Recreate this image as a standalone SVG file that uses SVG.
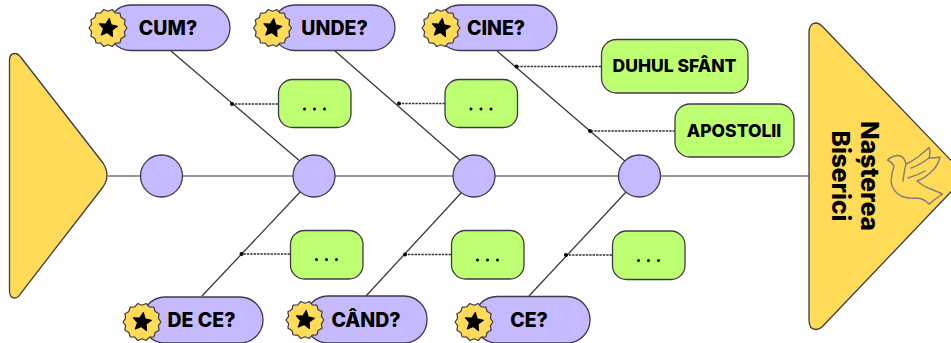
<svg xmlns="http://www.w3.org/2000/svg" xmlns:xlink="http://www.w3.org/1999/xlink" width="951" height="343" viewBox="0 0 951 343">
<style>
.o{stroke:#3f3a4a;stroke-width:1.3}
.p{fill:#c5b9ff}
.g{fill:#bdff70}
.y{fill:#ffdb58}
.l{font-family:"Inter","Liberation Sans",sans-serif;font-weight:800;fill:#000;text-anchor:middle}
.t{font-size:19.5px}
.s{font-size:17.500px}
.h{font-size:24.500px}
.rib{fill:none;stroke:#3a3a3a;stroke-width:1.3}
.spine{fill:none;stroke:#777;stroke-width:1.4}
.dash{fill:none;stroke:#333;stroke-width:1.3;stroke-dasharray:2.4 1}
.d{fill:#000}
</style>
<defs>
<g id="badge">
<polygon class="y" stroke="#3f3a4a" stroke-width="1.2" stroke-linejoin="round" points="19,0 16.4,3.7 17.1,8.2 13.1,10.5 11.9,14.9 7.3,15.1 4.2,18.5 0,16.8 -4.2,18.5 -7.3,15.1 -11.9,14.9 -13.1,10.5 -17.1,8.2 -16.4,3.7 -19,0 -16.4,-3.7 -17.1,-8.2 -13.1,-10.5 -11.9,-14.9 -7.3,-15.1 -4.2,-18.5 0,-16.8 4.2,-18.5 7.3,-15.1 11.9,-14.9 13.1,-10.5 17.1,-8.2 16.4,-3.7"/>
<polygon fill="#000" stroke="#000" stroke-width="1.2" stroke-linejoin="round" transform="rotate(8)" points="0,-9.5 2.7,-3.5 9,-3 4.3,1.3 5.6,7.8 0,4.5 -5.6,7.8 -4.3,1.3 -9,-3 -2.7,-3.5"/>
</g>
<g id="dots"><circle class="d" cx="-10" cy="0" r="1.5"/><circle class="d" cx="0" cy="0" r="1.5"/><circle class="d" cx="10" cy="0" r="1.5"/></g>
</defs>
<g id="connectors">
<path class="spine" d="M108 176H809"/>
<path class="rib" d="M171 51L301 162"/>
<path class="rib" d="M335 51L461 161"/>
<path class="rib" d="M497 51L626 162"/>
<path class="rib" d="M202 296L302 190"/>
<path class="rib" d="M366 296L462 192"/>
<path class="rib" d="M529 296L627 191"/>
<path class="dash" d="M278 104H232"/><circle class="d" cx="232" cy="104" r="2"/>
<path class="dash" d="M445 103.500H399"/><circle class="d" cx="399" cy="103.500" r="2"/>
<path class="dash" d="M601 66.500H516"/><circle class="d" cx="516.500" cy="66.500" r="2"/>
<path class="dash" d="M675 131H590"/><circle class="d" cx="590" cy="131" r="2"/>
<path class="dash" d="M290 254H241"/><circle class="d" cx="241.500" cy="254" r="2"/>
<path class="dash" d="M451 254.500H405"/><circle class="d" cx="405" cy="254.500" r="2"/>
<path class="dash" d="M612 255H566"/><circle class="d" cx="566" cy="255" r="2"/>
</g>
<g id="tail"><path class="y o" d="M9.500 60Q9.500 53.500 15 53.500Q18 53.500 21 57.500L103 163Q111 175.500 103 187L21 293Q18 298 15 298Q9.500 298 9.500 291Z"/></g>
<g id="head">
<path class="y o" d="M809 33Q809 23 816 23Q819 23 822 26L966 176L822 327Q819 329.500 816 329.500Q809 329.500 809 320Z"/>
<path fill="none" stroke="#7d7d80" stroke-width="1.4" stroke-linejoin="round" stroke-linecap="round" d="M887.500 160Q892 156 897 155.500Q904 155 906 164Q916 160 929 147.500Q931 152 929 158Q935 158 940 157Q938 166 931 172Q925 178 917 181Q926 188 931 189Q938 192 942.500 194Q937 198 934 200Q931 203 929 204Q925 199 917 198Q908 199 901 196Q892 191 891 181Q892 172 894 166Q892 162 887.500 160ZM906 164Q904 172 903 181M929 158Q920 165 911 168M925 171Q918 175 908 178"/>
<text class="l h" transform="translate(861 176) rotate(90)">Nașterea</text>
<text class="l h" transform="translate(832 176) rotate(90)">Biserici</text>
</g>
<g id="c0"><circle class="p o" cx="161.500" cy="176" r="21"/></g>
<g id="c1"><circle class="p o" cx="314" cy="176" r="21"/></g>
<g id="c2"><circle class="p o" cx="474" cy="176" r="21"/></g>
<g id="c3"><circle class="p o" cx="639.500" cy="176" r="21"/></g>
<g id="cum"><rect class="p o" x="108" y="5" width="122" height="45.500" rx="22.700"/><use xlink:href="#badge" href="#badge" x="108" y="28"/><text class="l t" x="168" y="35">CUM?</text></g>
<g id="unde"><rect class="p o" x="272" y="5" width="123" height="45.500" rx="22.700"/><use xlink:href="#badge" href="#badge" x="272.500" y="28"/><text class="l t" x="334.500" y="35">UNDE?</text></g>
<g id="cine"><rect class="p o" x="437" y="5" width="120" height="45.500" rx="22.700"/><use xlink:href="#badge" href="#badge" x="441" y="28"/><text class="l t" x="496" y="35">CINE?</text></g>
<g id="dece"><rect class="p o" x="142" y="297" width="121" height="46" rx="23"/><use xlink:href="#badge" href="#badge" x="142" y="322"/><text class="l t" x="201.500" y="326.500">DE CE?</text></g>
<g id="cand"><rect class="p o" x="305" y="296" width="122" height="47" rx="23"/><use xlink:href="#badge" href="#badge" x="305" y="320"/><text class="l t" x="366" y="326.500">CÂND?</text></g>
<g id="ce"><rect class="p o" x="474" y="296.500" width="116" height="46.500" rx="23"/><use xlink:href="#badge" href="#badge" x="474" y="322"/><text class="l t" x="529" y="326.500">CE?</text></g>
<g id="g1"><rect class="g o" x="278.500" y="79.500" width="72.500" height="48" rx="14"/><use xlink:href="#dots" href="#dots" x="314.500" y="109"/></g>
<g id="g2"><rect class="g o" x="445" y="79.500" width="72.500" height="48" rx="14"/><use xlink:href="#dots" href="#dots" x="481" y="109"/></g>
<g id="g3"><rect class="g o" x="290.500" y="230.500" width="72.500" height="48.500" rx="14"/><use xlink:href="#dots" href="#dots" x="326.500" y="259.500"/></g>
<g id="g4"><rect class="g o" x="451.500" y="230.500" width="72.500" height="48.500" rx="14"/><use xlink:href="#dots" href="#dots" x="487.500" y="260"/></g>
<g id="g5"><rect class="g o" x="612.500" y="231" width="72.500" height="48.500" rx="14"/><use xlink:href="#dots" href="#dots" x="648.500" y="260.500"/></g>
<g id="duhul"><rect class="g o" x="601.500" y="39.500" width="146.500" height="53.500" rx="15"/><text class="l s" x="674.500" y="72">DUHUL SFÂNT</text></g>
<g id="apostolii"><rect class="g o" x="675" y="104" width="119" height="53" rx="15"/><text class="l s" x="734" y="137">APOSTOLII</text></g>
</svg>
